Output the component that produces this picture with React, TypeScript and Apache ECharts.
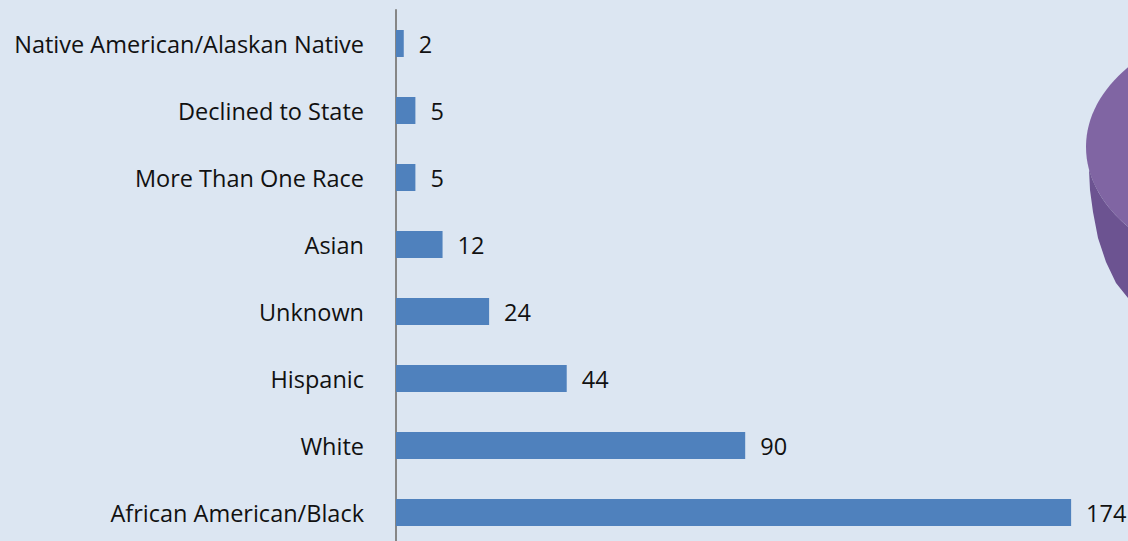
import React, { useEffect, useRef } from "react";
import * as echarts from "echarts";

const categories = [
  "Native American/Alaskan Native",
  "Declined to State",
  "More Than One Race",
  "Asian",
  "Unknown",
  "Hispanic",
  "White",
  "African American/Black",
];
const values = [2, 5, 5, 12, 24, 44, 90, 174];

const BG = "#dce6f2";

function ellipsePoints(cx: number, cy: number, rx: number, ry: number, x0: number, x1: number, lower: boolean, n: number) {
  const pts: number[][] = [];
  for (let i = 0; i <= n; i++) {
    const x = x0 + ((x1 - x0) * i) / n;
    const t = Math.max(0, 1 - ((x - cx) / rx) ** 2);
    const dy = ry * Math.sqrt(t);
    pts.push([x, lower ? cy + dy : cy - dy]);
  }
  return pts;
}

export default function App() {
  const ref = useRef<HTMLDivElement>(null);
  useEffect(() => {
    document.body.style.margin = "0";
    document.body.style.background = BG;
    document.body.style.overflow = "hidden";
    const chart = echarts.init(ref.current!, undefined, { renderer: "svg" });
    const cx = 1286, cy = 147, rx = 200, ry = 130;
    const lowerArc = ellipsePoints(cx, cy, rx, ry, 1089, 1128, true, 12);
    const sidePts = [
      ...lowerArc,
      [1128, 298],
      [1116, 283],
      [1106, 262],
      [1098, 238],
      [1093, 212],
      [1090, 190],
    ];
    chart.setOption({
      animation: false,
      backgroundColor: BG,
      grid: { left: 396, top: 10, width: 776, height: 536, containLabel: false },
      xAxis: { type: "value", min: 0, max: 200, show: false },
      yAxis: {
        type: "category",
        data: categories,
        inverse: true,
        axisLine: { show: true, lineStyle: { color: "#868686", width: 2 } },
        axisTick: { show: false },
        splitLine: { show: false },
        axisLabel: {
          margin: 32,
          color: "#111",
          fontFamily: "Open Sans",
          fontSize: 23.5,
        },
      },
      series: [
        {
          type: "bar",
          data: values,
          barWidth: 27,
          itemStyle: { color: "#4f81bd" },
          label: {
            show: true,
            position: "right",
            distance: 15,
            color: "#111",
            fontFamily: "Open Sans",
            fontSize: 23.5,
          },
        },
      ],
      graphic: [
        {
          type: "ellipse",
          shape: { cx, cy, rx, ry },
          style: { fill: "#8065a3" },
          silent: true,
        },
        {
          type: "polygon",
          shape: { points: sidePts },
          style: { fill: "#6c5391" },
          silent: true,
        },
      ],
    });
    return () => chart.dispose();
  }, []);
  return (
    <div style={{ width: 1128, height: 541, overflow: "hidden" }}>
      <div ref={ref} style={{ width: 1200, height: 560 }} />
    </div>
  );
}
